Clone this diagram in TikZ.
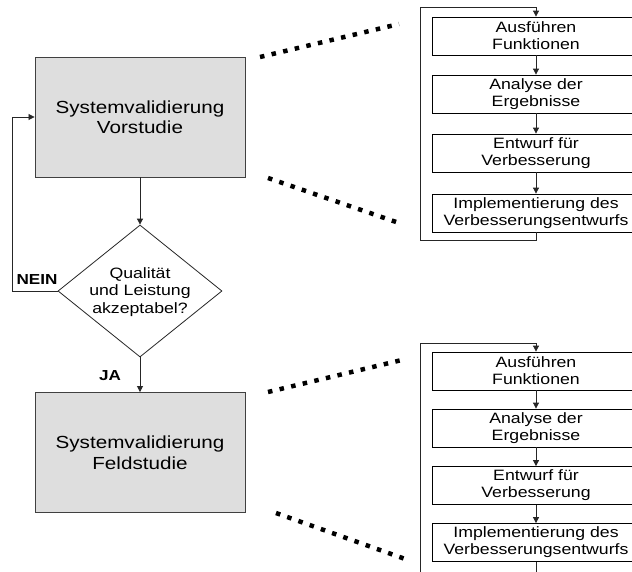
\documentclass[tikz,border=0pt]{standalone}
\usepackage{fontspec}
\setmainfont{Liberation Sans}[FakeStretch=1.18]
\usetikzlibrary{arrows.meta,shapes.geometric}
\begin{document}
\begin{tikzpicture}[x=1pt,y=-1pt,
  bigbox/.style={draw=black!75,fill=black!13,line width=0.9pt,minimum width=210pt,minimum height=120pt,inner sep=0pt,align=center,font=\fontsize{17.5}{20.5}\selectfont},
  smallbox/.style={draw=black,fill=white,line width=0.8pt,minimum width=208pt,minimum height=38pt,inner sep=0pt,align=center,font=\fontsize{15}{17}\selectfont},
  arr/.style={draw=black!85,line width=0.8pt,-{Triangle[length=6pt,width=6pt]}},
  dots/.style={line width=4.5pt,dash pattern=on 4.5pt off 7.4pt},
  lbl/.style={font=\bfseries\fontsize{14.5}{16}\selectfont,inner sep=0pt}
]
\clip (0,0) rectangle (632,571);
\fill[white] (0,0) rectangle (632,571);
% left column
\node[bigbox] (b1) at (140,117) {Systemvalidierung\\Vorstudie};
\node[bigbox] (b2) at (140,452.5) {Systemvalidierung\\Feldstudie};
\node[diamond,draw=black!85,line width=0.8pt,fill=white,minimum width=164pt,minimum height=132pt,inner sep=0pt] (d) at (140,291) {};
\node[align=center,inner sep=0pt,font=\fontsize{15}{17.5}\selectfont] (dt) at (140,292) {Qualität\\und Leistung\\akzeptabel?};
\node[lbl] (nein) at (37,280) {NEIN};
\node[lbl] (ja) at (110,376) {JA};
\draw[arr] (b1) -- (d.north);
\draw[arr] (d.south) -- (b2);
\draw[arr] (d.west) -- (12,291) |- (b1.west);
% upper detail
\node[smallbox] (u1) at (536,36) {Ausführen\\Funktionen};
\node[smallbox] (u2) at (536,94) {Analyse der\\Ergebnisse};
\node[smallbox] (u3) at (536,153) {Entwurf für\\Verbesserung};
\node[smallbox] (u4) at (536,213) {Implementierung des\\Verbesserungsentwurfs};
\draw[arr] (u1) -- (u2);
\draw[arr] (u2) -- (u3);
\draw[arr] (u3) -- (u4);
\draw[arr] (u4.south) -- ++(0,8) -| (420,7) -| (u1.north);
% lower detail
\node[smallbox] (l1) at (536,371) {Ausführen\\Funktionen};
\node[smallbox] (l2) at (536,428) {Analyse der\\Ergebnisse};
\node[smallbox] (l3) at (536,485.5) {Entwurf für\\Verbesserung};
\node[smallbox] (l4) at (536,542.5) {Implementierung des\\Verbesserungsentwurfs};
\draw[arr] (l1) -- (l2);
\draw[arr] (l2) -- (l3);
\draw[arr] (l3) -- (l4);
\draw[arr] (l4.south) -- ++(0,40) -| (420,343) -| (l1.north);
% dotted zoom lines
\coordinate (p1) at (260,57); \coordinate (q1) at (399,24);
\coordinate (p2) at (268,178); \coordinate (q2) at (402,224);
\coordinate (p3) at (268,392); \coordinate (q3) at (406,359);
\coordinate (p4) at (276,513); \coordinate (q4) at (408,560);
\draw[dots] (p1) -- (q1);
\draw[dots] (p2) -- (q2);
\draw[dots] (p3) -- (q3);
\draw[dots] (p4) -- (q4);
\end{tikzpicture}
\end{document}
